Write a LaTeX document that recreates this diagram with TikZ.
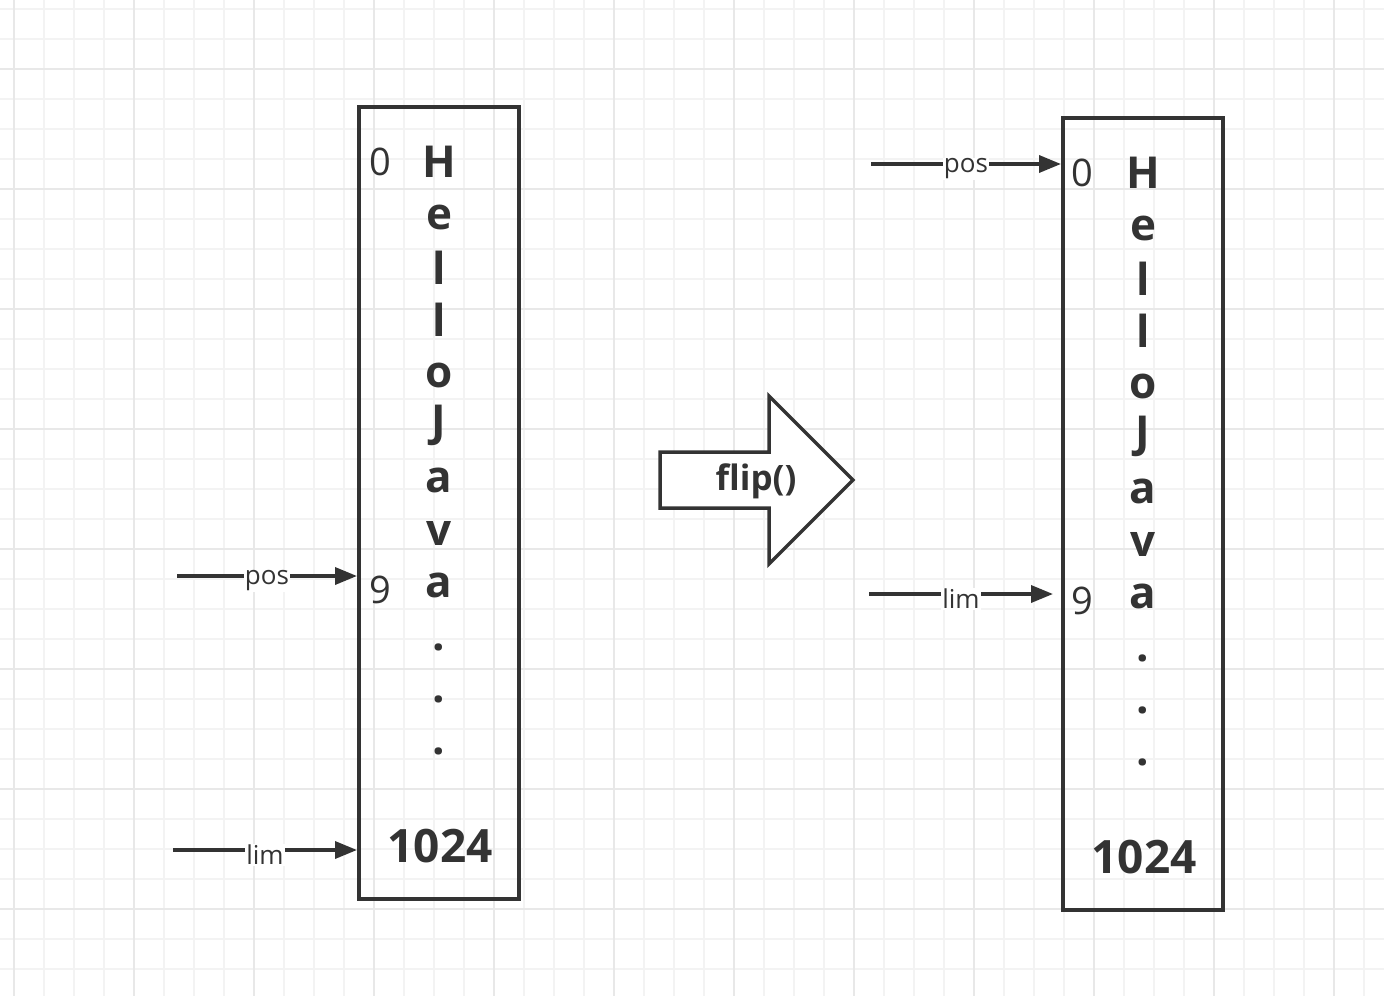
\documentclass[tikz,border=0pt]{standalone}
\usepackage{fontspec}
\setmainfont{Open Sans}
\usetikzlibrary{arrows.meta}
\definecolor{ink}{HTML}{333333}
\definecolor{gridminor}{HTML}{F3F3F3}
\definecolor{gridmajor}{HTML}{E8E8E8}
\tikzset{
  cellbox/.style={draw=ink,line width=3.5pt,minimum width=160pt,minimum height=792pt,inner sep=0pt},
  letter/.style={text=ink,font=\fontsize{44}{44}\selectfont\bfseries,inner sep=0pt,anchor=center},
  idx/.style={text=ink,font=\fontsize{38}{38}\selectfont,inner sep=0pt,anchor=center},
  big/.style={text=ink,font=\fontsize{46}{46}\selectfont\bfseries,inner sep=0pt,anchor=center},
  ptr/.style={draw=ink,line width=3.5pt,-{Triangle[length=22pt,width=17pt]}},
  ptrlabel/.style={fill=white,text=ink,font=\fontsize{26}{26}\selectfont,inner sep=1pt,yshift=-5pt},
  blockarrow/.style={draw=ink,line width=3.5pt,fill=white,line join=miter}
}
\begin{document}
\begin{tikzpicture}[x=1pt,y=-1pt]
\useasboundingbox (0,0) rectangle (1384,996);
\fill[white] (0,0) rectangle (1384,996);
% grid
\foreach \gx in {14,44,...,1384} \draw[gridminor,line width=2pt] (\gx,0) -- (\gx,996);
\foreach \gy in {9,39,...,996} \draw[gridminor,line width=2pt] (0,\gy) -- (1384,\gy);
\foreach \gx in {14,134,...,1384} \draw[gridmajor,line width=2pt] (\gx,0) -- (\gx,996);
\foreach \gy in {69,189,...,996} \draw[gridmajor,line width=2pt] (0,\gy) -- (1384,\gy);

% left box
\node[cellbox] (boxL) at (439,503) {};
\foreach \ch/\yy [count=\i] in {H/162,e/217,l/268,l/320,o/375,J/425,a/480,v/533,a/585,./647,./699,./751}
  \node[letter] (L\i) at (439,\yy) {\ch};
\node[idx] (L0) at (380,162) {0};
\node[idx] (L9) at (380,590) {9};
\node[big] (L1024) at (440,846) {1024};

% right box
\node[cellbox] (boxR) at (1143,514) {};
\foreach \ch/\yy [count=\i] in {H/173,e/228,l/279,l/331,o/386,J/436,a/491,v/544,a/596,./658,./710,./762}
  \node[letter] (R\i) at (1143,\yy) {\ch};
\node[idx] (R0) at (1082,173) {0};
\node[idx] (R9) at (1082,601) {9};
\node[big] (R1024) at (1144,857) {1024};

% pointers left
\coordinate (pLs) at (177,576);
\coordinate (pLe) at (357,576);
\draw[ptr] (pLs) -- node[ptrlabel] (pLlab) {pos} (pLe);
\coordinate (lLs) at (173,850);
\coordinate (lLe) at (357,850);
\draw[ptr] (lLs) -- node[ptrlabel] (lLlab) {lim} (lLe);

% pointers right
\coordinate (pRs) at (871,164);
\coordinate (pRe) at (1061,164);
\draw[ptr] (pRs) -- node[ptrlabel] (pRlab) {pos} (pRe);
\coordinate (lRs) at (869,594);
\coordinate (lRe) at (1053,594);
\draw[ptr] (lRs) -- node[ptrlabel] (lRlab) {lim} (lRe);

% flip block arrow
\draw[blockarrow] (660,452) -- (769,452) -- (769,396) -- (853,480) -- (769,564) -- (769,508) -- (660,508) -- cycle;
\node[text=ink,font=\fontsize{35}{35}\selectfont\bfseries,inner sep=0pt] (flip) at (756,481) {flip()};
\end{tikzpicture}
\end{document}
